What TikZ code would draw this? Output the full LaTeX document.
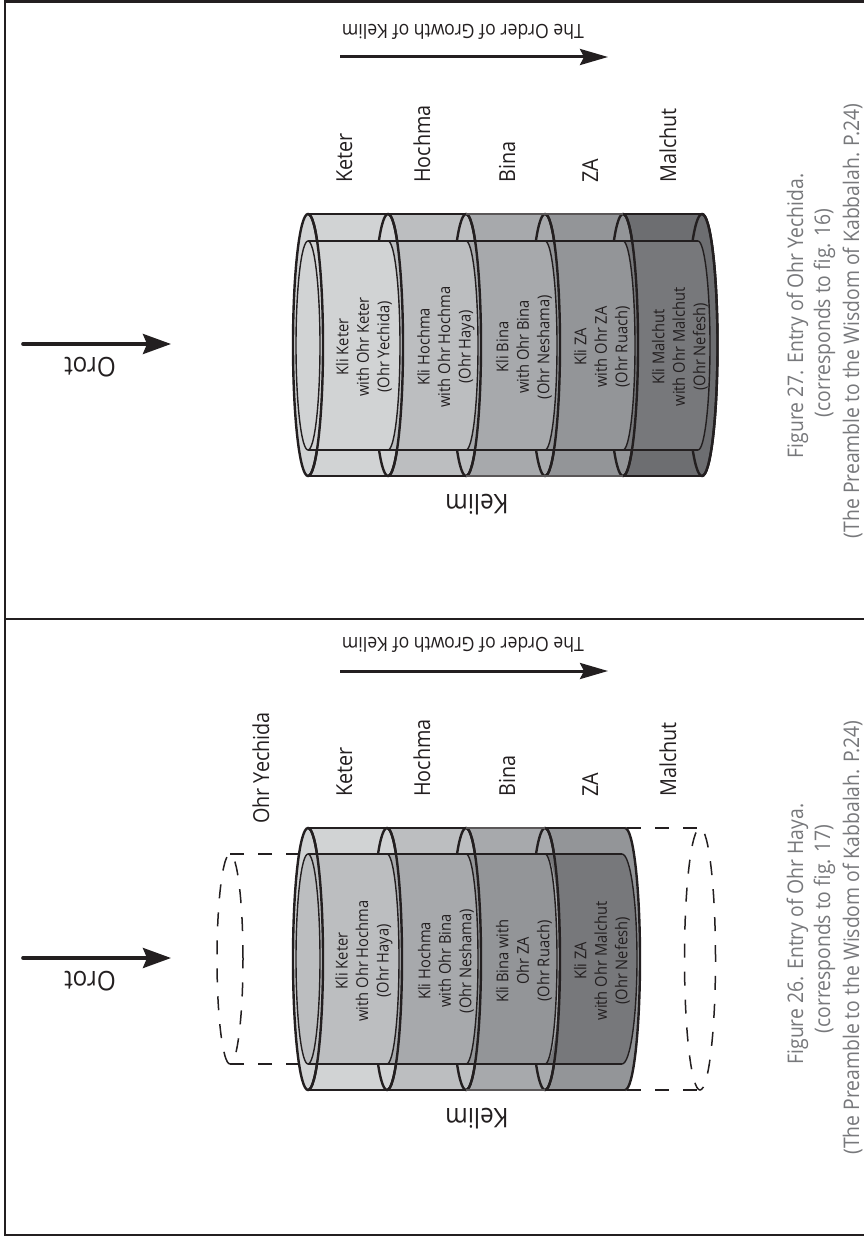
\documentclass[tikz,border=0pt]{standalone}
\usepackage{fontspec}
\usetikzlibrary{arrows.meta}
\setmainfont[FakeStretch=0.9]{Open Sans}
\definecolor{ink}{HTML}{231F20}
\definecolor{gA}{HTML}{D1D3D4}
\definecolor{gB}{HTML}{BCBEC0}
\definecolor{gC}{HTML}{A7A9AC}
\definecolor{gD}{HTML}{939598}
\definecolor{gE}{HTML}{6D6E71}
\definecolor{gF}{HTML}{77787B}
\definecolor{capc}{HTML}{77787B}
\tikzset{
  frameline/.style={draw=ink,line width=2.6pt},
  outerarc/.style={draw=ink,line width=2.4pt},
  innerarc/.style={draw=ink,line width=1.4pt},
  heavy/.style={draw=ink,line width=2.6pt},
  lightedge/.style={draw=ink!75,line width=1.3pt},
  dashline/.style={draw=ink,line width=1.5pt,dash pattern=on 14pt off 14pt},
  bigarrow/.style={draw=ink,line width=3.6pt,line cap=round,-{Stealth[length=28pt,width=20pt,inset=4pt]}},
  ordarrow/.style={draw=ink,line width=3pt,-{Stealth[length=28pt,width=16pt,inset=4pt]}},
  lab/.style={rotate=90,anchor=base west,inner sep=0pt,text=ink,font=\fontsize{22}{26}\selectfont},
  updown/.style={rotate=180,anchor=center,inner sep=0pt,text=ink},
  inside/.style={rotate=90,anchor=center,inner sep=0pt,align=center,text=ink,font=\fontsize{16.3}{20.5}\selectfont},
  caption/.style={rotate=90,anchor=base,inner sep=0pt,text=capc,font=\fontsize{21.5}{26}\selectfont},
  bigup/.style={updown,font=\fontsize{27}{30}\selectfont},
  ordup/.style={updown,font=\fontsize{19.6}{24}\selectfont},
}
\newcommand{\bandfill}[6]{% x0,x1,top,bot,rx,colour
  \fill[#6] (#1,-#3) -- (#2,-#3) arc[start angle=90,end angle=-90,x radius=#5pt,y radius={(#4-#3)/2*1pt}] -- (#1,-#4)
    arc[start angle=-90,end angle=90,x radius=#5pt,y radius={(#4-#3)/2*1pt}] -- cycle;}
\newcommand{\ellfull}[5]{% x,top,bot,rx,style
  \path[#5] (#1,{-(#2+#3)/2}) ellipse[x radius=#4pt,y radius={(#3-#2)/2*1pt}];}
\newcommand{\rightarc}[5]{% x,top,bot,rx,style
  \path[#5] (#1,-#2) arc[start angle=90,end angle=-90,x radius=#4pt,y radius={(#3-#2)/2*1pt}];}
\begin{document}
\begin{tikzpicture}[x=1pt,y=1pt]
\useasboundingbox (0,0) rectangle (864,-1236);
\fill[white] (0,0) rectangle (864,-1236);
% frame
\coordinate (fTL) at (5,-1.5); \coordinate (fTR) at (864,-1.5);
\coordinate (fBL) at (5,-1235); \coordinate (fBR) at (864,-1235);
\coordinate (fML) at (5,-619); \coordinate (fMR) at (864,-619);
\draw[frameline] (fTR) -- (fTL) -- (fBL) -- (fBR);
\draw[frameline] (fML) -- (fMR);

% ===== Figure 27 (upper panel) =====
\ellfull{702}{214}{476}{15.5}{fill=gD}
\bandfill{623}{702}{214}{476}{15}{gE}
\bandfill{545}{623}{214}{476}{15}{gD}
\bandfill{466}{545}{214}{476}{15}{gC}
\bandfill{388}{466}{214}{476}{15}{gB}
\bandfill{308}{388}{214}{476}{15}{gA}
\ellfull{308}{214}{476}{15}{fill=gA}
\foreach \x in {308,388,466,545,623}{\ellfull{\x}{214}{476}{15}{outerarc}}
\ellfull{702}{214}{476}{15.5}{outerarc}
% inner panels
\bandfill{623}{698}{241}{450}{12}{fill=gF}
\bandfill{545}{623}{241}{450}{12}{fill=gD}
\bandfill{466}{545}{241}{450}{12}{fill=gC}
\bandfill{388}{466}{241}{450}{12}{fill=gB}
\bandfill{308}{388}{241}{450}{12}{fill=gA}
\ellfull{308}{241}{450}{12}{fill=gA}
\ellfull{308}{241}{450}{12}{innerarc}
\foreach \x in {388,466,545,623,698}{\rightarc{\x}{241}{450}{12}{innerarc}}
\foreach \x in {308,388,466,545,623}{\rightarc{\x}{214}{476}{15}{outerarc}}
\rightarc{702}{214}{476}{15.5}{outerarc}
% long edges
\draw[heavy] (308,-214) -- (466,-214); \draw[heavy] (308,-476) -- (466,-476);
\draw[lightedge] (466,-214) -- (623,-214); \draw[lightedge] (466,-476) -- (623,-476);
\draw[heavy] (623,-214) -- (702,-214); \draw[heavy] (623,-476) -- (702,-476);
\draw[heavy] (308,-241) -- (698,-241); \draw[heavy] (308,-450) -- (698,-450);

\node[inside] (t1) at (364,-347) {Kli Keter\\with Ohr Keter\\(Ohr Yechida)};
\node[inside] (t2) at (446,-347) {Kli Hochma\\with Ohr Hochma\\(Ohr Haya)};
\node[inside] (t3) at (524,-347) {Kli Bina\\with Ohr Bina\\(Ohr Neshama)};
\node[inside] (t4) at (602,-347) {Kli ZA\\with Ohr ZA\\(Ohr Ruach)};
\node[inside] (t5) at (680,-347) {Kli Malchut\\with Ohr Malchut\\(Ohr Nefesh)};
\node[lab] (tk) at (352,-183) {Keter};
\node[lab] (th) at (430,-183) {Hochma};
\node[lab] (tb) at (515,-183) {Bina};
\node[lab] (tz) at (598,-183) {ZA};
\node[lab] (tm) at (676,-183) {Malchut};
\node[bigup] (tkel) at (477,-505) {Kelim};
\node[ordup] (tord) at (463,-32) {The Order of Growth of Kelim};
\node[bigup] (toro) at (90,-367) {Orot};
\coordinate (tOa) at (23,-344); \coordinate (tOb) at (171,-344);
\coordinate (tGa) at (340,-57); \coordinate (tGb) at (608,-57);
\draw[bigarrow] (tOa) -- (tOb);
\draw[ordarrow] (tGa) -- (tGb);
\node[caption] (tc1) at (803,-316) {Figure 27. Entry of Ohr Yechida.};
\node[caption] (tc2) at (830,-313) {(corresponds to fig. 16)};
\node[caption] (tc3) at (859,-321) {(The Preamble to the Wisdom of Kabbalah. P.24)};

% ===== Figure 26 (lower panel) =====
\bandfill{545}{625}{828}{1090}{15}{gD}
\bandfill{466}{545}{828}{1090}{15}{gC}
\bandfill{387}{466}{828}{1090}{15}{gB}
\bandfill{308}{387}{828}{1090}{15}{gA}
\ellfull{308}{828}{1090}{15}{fill=gA}
\foreach \x in {308,387,466,545}{\ellfull{\x}{828}{1090}{15}{outerarc}}
% dashed rings
\ellfull{230}{854}{1064}{13}{dashline}
\ellfull{700}{828}{1090}{15.5}{dashline}
\draw[dashline] (300,-854) -- (230,-854);
\draw[dashline] (300,-1064) -- (230,-1064);
\draw[dashline] (627,-828) -- (700,-828);
\draw[dashline] (627,-1090) -- (700,-1090);
% inner panels
\bandfill{545}{622}{854}{1064}{15}{fill=gF}
\bandfill{466}{545}{854}{1064}{12}{fill=gD}
\bandfill{387}{466}{854}{1064}{12}{fill=gC}
\bandfill{308}{387}{854}{1064}{12}{fill=gB}
\ellfull{308}{854}{1064}{12}{fill=gB}
\ellfull{308}{854}{1064}{12}{innerarc}
\foreach \x in {387,466,545}{\rightarc{\x}{854}{1064}{12}{innerarc}}
\rightarc{622}{854}{1064}{15}{innerarc}
\foreach \x in {308,387,466,545,625}{\rightarc{\x}{828}{1090}{15}{outerarc}}
\draw[heavy] (308,-828) -- (466,-828); \draw[heavy] (308,-1090) -- (466,-1090);
\draw[lightedge] (466,-828) -- (545,-828); \draw[lightedge] (466,-1090) -- (545,-1090);
\draw[outerarc] (545,-828) -- (625,-828); \draw[outerarc] (545,-1090) -- (625,-1090);
\draw[heavy] (308,-854) -- (622,-854); \draw[heavy] (308,-1064) -- (622,-1064);

\node[inside] (b1) at (364,-961) {Kli Keter\\with Ohr Hochma\\(Ohr Haya)};
\node[inside] (b2) at (446,-961) {Kli Hochma\\with Ohr Bina\\(Ohr Neshama)};
\node[inside] (b3) at (524,-961) {Kli Bina with\\Ohr ZA\\(Ohr Ruach)};
\node[inside] (b4) at (602,-961) {Kli ZA\\with Ohr Malchut\\(Ohr Nefesh)};
\node[lab] (by) at (269,-824) {Ohr Yechida};
\node[lab] (bk) at (352,-797) {Keter};
\node[lab] (bh) at (430,-797) {Hochma};
\node[lab] (bb) at (515,-797) {Bina};
\node[lab] (bz) at (598,-797) {ZA};
\node[lab] (bm) at (676,-797) {Malchut};
\node[bigup] (bkel) at (477,-1119) {Kelim};
\node[ordup] (bord) at (463,-645) {The Order of Growth of Kelim};
\node[bigup] (boro) at (90,-981) {Orot};
\coordinate (bOa) at (23,-958); \coordinate (bOb) at (171,-958);
\coordinate (bGa) at (340,-671); \coordinate (bGb) at (608,-671);
\draw[bigarrow] (bOa) -- (bOb);
\draw[ordarrow] (bGa) -- (bGb);
\node[caption] (bc1) at (803,-934) {Figure 26. Entry of Ohr Haya.};
\node[caption] (bc2) at (830,-929) {(corresponds to fig. 17)};
\node[caption] (bc3) at (859,-937.5) {(The Preamble to the Wisdom of Kabbalah. P.24)};
\end{tikzpicture}
\end{document}
